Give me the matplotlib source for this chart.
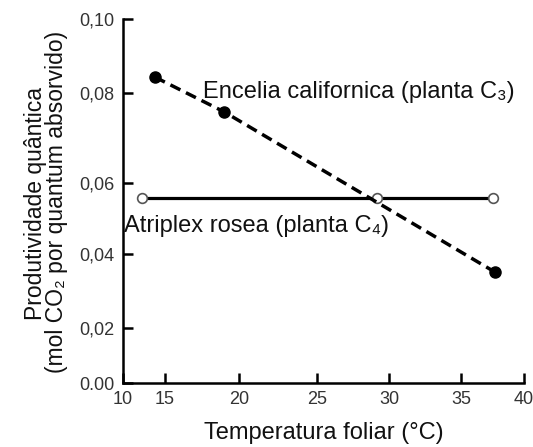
import numpy as np
import matplotlib
matplotlib.use("Agg")
import matplotlib.pyplot as plt

plt.rcParams['font.family'] = ['Liberation Sans', 'DejaVu Sans']

# Leaf temperature (°C) and quantum yield (mol CO2 per absorbed quantum)
encelia_temp = [13.8, 19.0, 37.7]
encelia_yield = [0.0843, 0.0758, 0.0351]
atriplex_temp = [12.3, 29.2, 37.5]
atriplex_yield = [0.0558, 0.0558, 0.0558]

x_ticks = [10, 15, 20, 25, 30, 35, 40]
x_ticklabels = ["10", "15", "20", "25", "30", "35", "40"]
y_ticks = [0.00, 0.02, 0.04, 0.06, 0.08, 0.10]
y_ticklabels = ["0.00", "0,02", "0,04", "0,06", "0,08", "0,10"]

# Hand-drawn axes: tick spacing is uneven, so each axis uses a
# piecewise-linear scale between its ticks.
x_pos = [0, 42, 116, 194, 266, 338, 401]
y_pos = [0, 55, 129, 200, 290, 364]


def piecewise(knots, pos):
    knots = np.asarray(knots, float)
    pos = np.asarray(pos, float)

    def fwd(v):
        v = np.asarray(v, float)
        out = np.interp(v, knots, pos)
        s0 = (pos[1] - pos[0]) / (knots[1] - knots[0])
        s1 = (pos[-1] - pos[-2]) / (knots[-1] - knots[-2])
        out = np.where(v < knots[0], pos[0] + (v - knots[0]) * s0, out)
        out = np.where(v > knots[-1], pos[-1] + (v - knots[-1]) * s1, out)
        return out

    def inv(p):
        p = np.asarray(p, float)
        out = np.interp(p, pos, knots)
        s0 = (knots[1] - knots[0]) / (pos[1] - pos[0])
        s1 = (knots[-1] - knots[-2]) / (pos[-1] - pos[-2])
        out = np.where(p < pos[0], knots[0] + (p - pos[0]) * s0, out)
        out = np.where(p > pos[-1], knots[-1] + (p - pos[-1]) * s1, out)
        return out

    return fwd, inv


fig = plt.figure(figsize=(5.33, 4.47), dpi=100)
ax = fig.add_axes([123 / 533, 1 - 383 / 447, 401 / 533, 364 / 447])
ax.set_xscale('function', functions=piecewise(x_ticks, x_pos))
ax.set_yscale('function', functions=piecewise(y_ticks, y_pos))
ax.set_xlim(10, 40)
ax.set_ylim(0, 0.10)

ax.plot(atriplex_temp, atriplex_yield, color='black', lw=2.3, zorder=2)
ax.plot(atriplex_temp, atriplex_yield, 'o', ms=7, mfc='white',
        mec='#555555', mew=1.2, zorder=3, clip_on=False)
ax.plot(encelia_temp, encelia_yield, color='black', lw=2.5,
        dashes=(3.2, 1.8), zorder=4)
ax.plot(encelia_temp, encelia_yield, 'o', ms=8, color='black', zorder=5,
        clip_on=False)

ax.text(17.6, 0.0789, "Encelia californica (planta C₃)", fontsize=17,
        color='#111111', va='baseline', ha='left')
ax.text(10.15, 0.0462, "Atriplex rosea (planta C₄)", fontsize=17,
        color='#111111', va='baseline', ha='left')

for side in ('top', 'right'):
    ax.spines[side].set_visible(False)
for side in ('left', 'bottom'):
    ax.spines[side].set_linewidth(1.8)

ax.set_xticks(x_ticks)
ax.set_xticklabels(x_ticklabels)
ax.set_yticks(y_ticks)
ax.set_yticklabels(y_ticklabels)
ax.tick_params(direction='in', length=7, width=1.8, labelsize=13,
               labelcolor='#333333')
ax.tick_params(axis='x', pad=6)
ax.tick_params(axis='y', pad=6)
ax.minorticks_off()

ax.set_xlabel("Temperatura foliar (°C)", fontsize=17, color='#111111',
              labelpad=10)
fig.text(36 / 533, 1 - 204 / 447, "Produtividade quântica", rotation=90,
         fontsize=16.5, color='#111111', ha='center', va='center')
fig.text(57 / 533, 1 - 202 / 447, "(mol CO₂ por quantum absorvido)",
         rotation=90, fontsize=16.5, color='#111111', ha='center',
         va='center')

fig.savefig("out.png", dpi=100)
